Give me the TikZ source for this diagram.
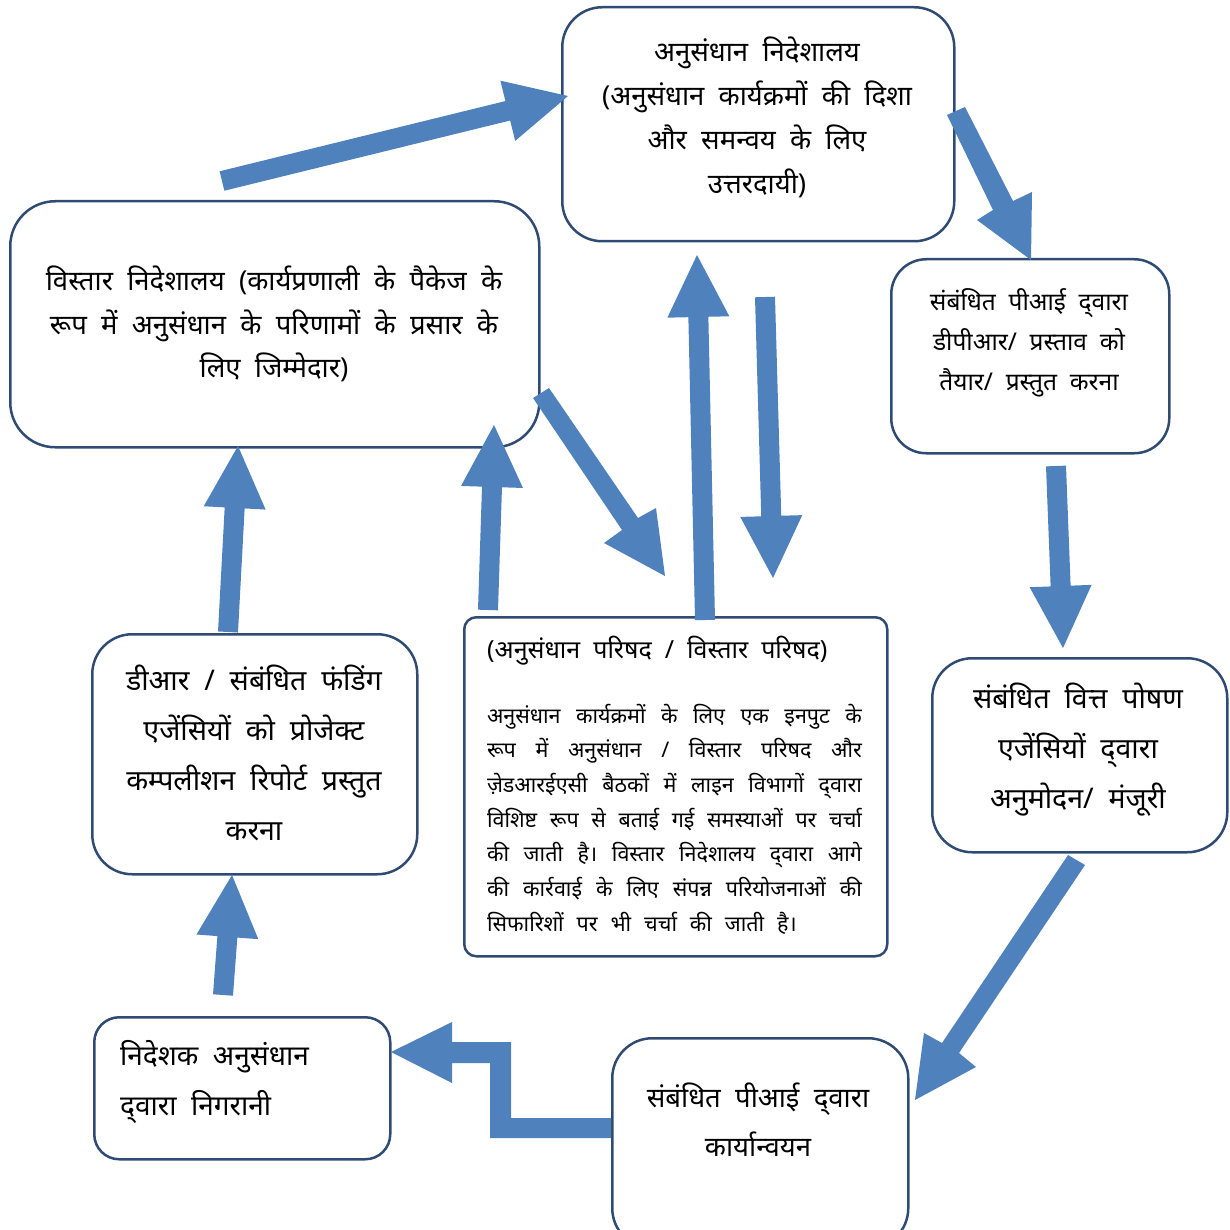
\documentclass[tikz,border=0pt]{standalone}
\usepackage{fontspec}
\setmainfont{Noto Sans}[Script=Devanagari]
\usetikzlibrary{calc}
\definecolor{arrowblue}{HTML}{4F81BD}
\definecolor{boxline}{HTML}{2F4B73}
\newcommand\widesp{\spaceskip=0.6em plus 1em minus 0.35em\relax}
\newcommand\blockarrow[2]{%
  \coordinate (hb) at ($(#2)!62pt!(#1)$);
  \fill[arrowblue] ($(#1)!10pt!90:(#2)$) -- ($(hb)!10pt!90:(#2)$) -- ($(hb)!31pt!90:(#2)$) -- (#2)
     -- ($(hb)!31pt!-90:(#2)$) -- ($(hb)!10pt!-90:(#2)$) -- ($(#1)!10pt!-90:(#2)$) -- cycle;
}
\begin{document}
\begin{tikzpicture}[x=1pt,y=-1pt,
  box/.style={draw=boxline, line width=2.5pt, inner sep=0pt, anchor=north west},
  bigtext/.style={font=\fontsize{27.5}{44}\selectfont, align=center, inner sep=0pt},
  arr/.style={fill=arrowblue}]
\clip (0,0) rectangle (1229,1230);
% boxes
\node[box, rounded corners=40pt, minimum width=392pt, minimum height=234pt] (dir) at (561,6) {};
\node[box, rounded corners=45pt, minimum width=529pt, minimum height=246pt] (ext) at (9,200) {};
\node[box, rounded corners=35pt, minimum width=278pt, minimum height=194pt] (pi) at (890,258) {};
\node[box, rounded corners=12pt, minimum width=423pt, minimum height=339pt] (coun) at (463,616) {};
\node[box, rounded corners=40pt, minimum width=325pt, minimum height=240pt] (dr) at (91,633) {};
\node[box, rounded corners=40pt, minimum width=295pt, minimum height=194pt] (fund) at (931,657) {};
\node[box, rounded corners=25pt, minimum width=296pt, minimum height=142pt] (mon) at (93,1016) {};
\node[box, rounded corners=40pt, minimum width=296pt, minimum height=210pt] (impl) at (611,1037) {};
% texts
\node[bigtext] (tdir) at (757,117) {अनुसंधान\ \ निदेशालय\\(अनुसंधान\ \ कार्यक्रमों\ \ की\ \ दिशा\\और\ \ समन्वय\ \ के\ \ लिए\\उत्तरदायी)};
\node[bigtext, font=\fontsize{27.5}{43.5}\selectfont] (text) at (274,324) {विस्तार\ \ निदेशालय\ \ (कार्यप्रणाली\ \ के\ \ पैकेज\ \ के\\रूप\ \ में\ \ अनुसंधान\ \ के\ \ परिणामों\ \ के\ \ प्रसार\ \ के\\लिए\ \ जिम्मेदार)};
\node[bigtext, font=\fontsize{24.5}{40}\selectfont] (tpi) at (1029,343) {संबंधित\ \ पीआई\ \ द्‍वारा\\डीपीआर/\ \ प्रस्ताव\ \ को\\तैयार/\ \ प्रस्तुत\ \ करना};
\node[bigtext, font=\fontsize{25}{40}\selectfont, anchor=west] (tct) at (487,651) {(अनुसंधान\ \ परिषद\ \ /\ \ विस्तार\ \ परिषद)};
\node[font=\fontsize{21.5}{34.7}\selectfont, align=justify, text width=375pt, inner sep=0pt] (tcb) at (674.5,819) {\widesp अनुसंधान कार्यक्रमों के लिए एक इनपुट के\linebreak
रूप में अनुसंधान / विस्तार परिषद और\linebreak
ज़ेडआरईएसी बैठकों में लाइन विभागों द्‍वारा\linebreak
विशिष्ट रूप से बताई गई समस्याओं पर चर्चा\linebreak
की जाती है। विस्तार निदेशालय द्‍वारा आगे\linebreak
की कार्रवाई के लिए संपन्न परियोजनाओं की\linebreak
सिफारिशों पर भी चर्चा की जाती है।};
\node[bigtext, font=\fontsize{28.5}{50}\selectfont] (tdr) at (254,753) {डीआर\ \ /\ \ संबंधित\ \ फंडिंग\\एजेंसियों\ \ को\ \ प्रोजेक्ट\\कम्पलीशन\ \ रिपोर्ट\ \ प्रस्तुत\\करना};
\node[bigtext, font=\fontsize{28.5}{50}\selectfont] (tfund) at (1078,750) {संबंधित\ \ वित्त\ \ पोषण\\एजेंसियों\ \ द्‍वारा\\अनुमोदन/\ \ मंजूरी};
\node[bigtext, font=\fontsize{28}{50}\selectfont, align=left, anchor=west] (tmon) at (120,1082) {निदेशक\ \ अनुसंधान\\द्‍वारा\ \ निगरानी};
\node[bigtext, font=\fontsize{27.5}{49}\selectfont] (timpl) at (758,1119.5) {संबंधित\ \ पीआई\ \ द्‍वारा\\कार्यान्वयन};
% arrow end points
\coordinate (a1s) at (222,181);  \coordinate (a1t) at (568,96);
\coordinate (a3s) at (1056,466); \coordinate (a3t) at (1063,648);
\coordinate (a6s) at (223,995);  \coordinate (a6t) at (232,875);
\coordinate (a7s) at (228,632);  \coordinate (a7t) at (238,446);
\coordinate (a8s) at (488,610);  \coordinate (a8t) at (494,425);
\coordinate (a10s) at (705,620); \coordinate (a10t) at (697,255);
\coordinate (a11s) at (765,297); \coordinate (a11t) at (773,578);
\blockarrow{a1s}{a1t}
\blockarrow{a3s}{a3t}
\blockarrow{a6s}{a6t}
\blockarrow{a7s}{a7t}
\blockarrow{a8s}{a8t}
\blockarrow{a10s}{a10t}
\blockarrow{a11s}{a11t}
% skewed arrows
\fill[arr] (947,115) -- (993,210) -- (977,220) -- (1031,260) -- (1032,192) -- (1013,201) -- (965,107) -- cycle;
\fill[arr] (1068,855) -- (942,1043) -- (924,1033) -- (915,1100) -- (976,1067) -- (959,1053) -- (1085,865) -- cycle;
\fill[arr] (533,398) -- (622,530) -- (604,543) -- (665,576) -- (656,508) -- (638,518) -- (549,388) -- cycle;
% elbow arrow
\fill[arr] (611,1118) -- (511,1118) -- (511,1042) -- (452,1042) -- (452,1022) -- (391,1052) -- (452,1083) -- (452,1063) -- (490,1063) -- (490,1138) -- (611,1138) -- cycle;
\end{tikzpicture}
\end{document}
